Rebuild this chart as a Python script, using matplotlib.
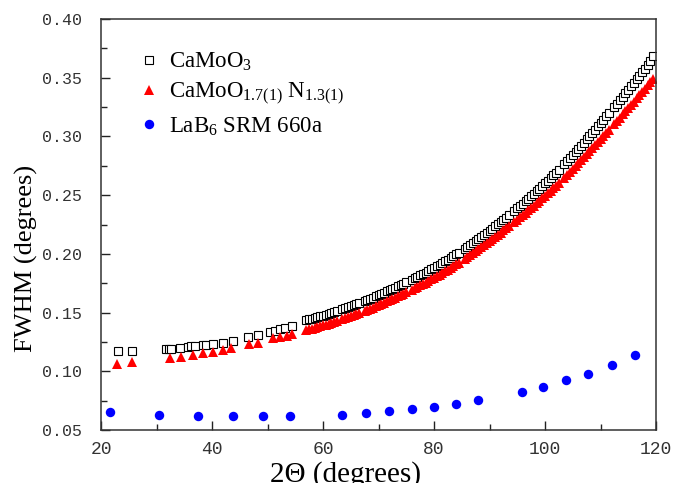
import matplotlib
matplotlib.use("Agg")
import matplotlib.pyplot as plt
from matplotlib.ticker import MultipleLocator, FormatStrFormatter

# ---------------- data ----------------
# CaMoO3 (open squares), low-angle peaks
sq_low_2theta = [23.0, 25.6, 31.7, 32.2, 32.6, 34.2, 35.7, 36.3, 36.9, 38.4, 39.0,
                 40.2, 42.0, 43.8, 46.5, 48.3, 50.5, 51.4, 52.3, 53.2, 54.5]
sq_low_fwhm = [0.1175, 0.1175, 0.1190, 0.1192, 0.1194, 0.1200, 0.1208, 0.1212, 0.1216,
               0.1222, 0.1226, 0.1233, 0.1245, 0.1262, 0.1290, 0.1308, 0.1335, 0.1345,
               0.1356, 0.1367, 0.1385]

# CaMoO1.7N1.3 (red triangles), low-angle peaks
tri_low_2theta = [22.8, 25.6, 32.4, 34.4, 36.5, 38.4, 40.2, 41.9, 43.5, 46.7, 48.2,
                  51.0, 52.3, 53.5, 54.5]
tri_low_fwhm = [0.1065, 0.1075, 0.1111, 0.1124, 0.1139, 0.1153, 0.1167, 0.1181, 0.1196,
                0.1230, 0.1238, 0.1281, 0.1290, 0.1301, 0.1318]

# dense high-angle region (shared peak positions)
dense_2theta = [57.0, 57.5, 58.0, 58.5, 59.0, 59.5, 60.0, 60.5, 61.0, 61.5, 62.0, 62.5,
                63.5, 64.0, 64.5, 65.0, 65.5, 66.0, 66.5,
                67.5, 68.0, 68.5, 69.0, 69.5, 70.0,
                70.5, 71.0, 71.5, 72.0, 72.5, 73.0, 73.5, 74.0, 74.5, 75.0,
                76.0, 76.5, 77.0, 77.5, 78.0, 78.5, 79.0, 79.5, 80.0, 80.5, 81.0, 81.5,
                82.0, 82.5, 83.0, 83.5, 84.0, 84.5,
                85.5, 86.0, 86.5, 87.0, 87.5, 88.0, 88.5, 89.0, 89.5, 90.0, 90.5, 91.0,
                91.5, 92.0, 92.5, 93.0, 93.5,
                94.5, 95.0, 95.5, 96.0, 96.5, 97.0, 97.5, 98.0, 98.5, 99.0, 99.5, 100.0,
                100.5, 101.0, 101.5, 102.0, 102.5,
                103.5, 104.0, 104.5, 105.0, 105.5, 106.0, 106.5, 107.0, 107.5, 108.0,
                108.5, 109.0, 109.5, 110.0, 110.5, 111.0, 111.5,
                112.5, 113.0, 113.5, 114.0, 114.5, 115.0, 115.5, 116.0, 116.5, 117.0,
                117.5, 118.0, 118.5, 119.0, 119.5]

sq_dense_fwhm = [0.1435, 0.1442, 0.1448, 0.1455, 0.1461, 0.1468, 0.1475, 0.1482, 0.1490,
                 0.1497, 0.1505, 0.1513,
                 0.1528, 0.1536, 0.1544, 0.1552, 0.1561, 0.1570, 0.1579,
                 0.1597, 0.1607, 0.1617, 0.1627, 0.1637, 0.1648,
                 0.1658, 0.1669, 0.1680, 0.1690, 0.1701, 0.1712, 0.1723, 0.1735, 0.1746,
                 0.1758,
                 0.1781, 0.1793, 0.1805, 0.1817, 0.1829, 0.1841, 0.1854, 0.1867, 0.1880,
                 0.1894, 0.1908, 0.1922, 0.1936, 0.1950, 0.1965, 0.1980, 0.1995, 0.2010,
                 0.2042, 0.2058, 0.2074, 0.2091, 0.2108, 0.2125, 0.2142, 0.2160, 0.2178,
                 0.2196, 0.2214, 0.2233, 0.2251, 0.2270, 0.2289, 0.2308, 0.2327,
                 0.2367, 0.2387, 0.2407, 0.2428, 0.2449, 0.2470, 0.2491, 0.2512, 0.2533,
                 0.2555, 0.2577, 0.2600, 0.2623, 0.2646, 0.2669, 0.2692, 0.2716,
                 0.2764, 0.2789, 0.2814, 0.2840, 0.2866, 0.2893, 0.2920, 0.2947, 0.2974,
                 0.3002, 0.3030, 0.3058, 0.3086, 0.3115, 0.3142, 0.3170, 0.3197,
                 0.3252, 0.3280, 0.3309, 0.3338, 0.3368, 0.3398, 0.3428, 0.3458, 0.3488,
                 0.3518, 0.3548, 0.3578, 0.3609, 0.3640, 0.3685]

tri_dense_fwhm = [0.1350, 0.1357, 0.1363, 0.1370, 0.1376, 0.1383, 0.1390, 0.1397, 0.1405,
                  0.1412, 0.1420, 0.1428,
                  0.1443, 0.1451, 0.1459, 0.1467, 0.1476, 0.1485, 0.1494,
                  0.1512, 0.1522, 0.1532, 0.1542, 0.1552, 0.1563,
                  0.1573, 0.1584, 0.1595, 0.1605, 0.1616, 0.1627, 0.1638, 0.1650, 0.1661,
                  0.1673,
                  0.1696, 0.1708, 0.1720, 0.1732, 0.1744, 0.1756, 0.1769, 0.1782, 0.1795,
                  0.1809, 0.1823, 0.1837, 0.1851, 0.1865, 0.1880, 0.1895, 0.1910, 0.1925,
                  0.1957, 0.1973, 0.1989, 0.2006, 0.2023, 0.2040, 0.2057, 0.2075, 0.2093,
                  0.2111, 0.2128, 0.2146, 0.2163, 0.2181, 0.2199, 0.2217, 0.2235,
                  0.2273, 0.2292, 0.2311, 0.2331, 0.2351, 0.2371, 0.2391, 0.2411, 0.2431,
                  0.2452, 0.2473, 0.2495, 0.2516, 0.2537, 0.2558, 0.2579, 0.2601,
                  0.2646, 0.2670, 0.2694, 0.2720, 0.2745, 0.2770, 0.2796, 0.2821, 0.2847,
                  0.2873, 0.2900, 0.2926, 0.2953, 0.2980, 0.3005, 0.3031, 0.3056,
                  0.3107, 0.3133, 0.3160, 0.3187, 0.3215, 0.3243, 0.3270, 0.3297, 0.3325,
                  0.3352, 0.3379, 0.3407, 0.3435, 0.3463, 0.3492]

# LaB6 SRM 660a (blue circles)
lab6_2theta = [21.6, 30.5, 37.5, 43.7, 49.1, 54.1, 63.4, 67.7, 71.9, 76.0, 80.0, 84.0,
               87.9, 95.8, 99.7, 103.7, 107.8, 112.0, 116.3]
lab6_fwhm = [0.0651, 0.0630, 0.0622, 0.0617, 0.0617, 0.0617, 0.0630, 0.0642, 0.0660,
             0.0679, 0.0698, 0.0724, 0.0756, 0.0824, 0.0869, 0.0923, 0.0980, 0.1054,
             0.1141]

labels = [r"CaMoO$_3$", r"CaMoO$_{1.7(1)}$ N$_{1.3(1)}$", r"LaB$_6$ SRM 660a"]
x_label = "2\u0398 (degrees)"
y_label = "FWHM (degrees)"

# ---------------- figure ----------------
plt.rcParams["mathtext.fontset"] = "custom"
plt.rcParams["mathtext.rm"] = "Liberation Serif"
plt.rcParams["mathtext.it"] = "Liberation Serif:italic"

fig = plt.figure(figsize=(6.77, 4.83), dpi=100)
ax = fig.add_axes([101 / 677, 1 - 430 / 483, 555 / 677, 411 / 483])

ax.plot(sq_low_2theta + dense_2theta, sq_low_fwhm + sq_dense_fwhm, ls="none",
        marker="s", ms=6.4, mfc="white", mec="black", mew=0.8, label=labels[0])
ax.plot(tri_low_2theta + dense_2theta, tri_low_fwhm + tri_dense_fwhm, ls="none",
        marker="^", ms=7.3, mfc="#ff0000", mec="#ff0000", mew=0.0, label=labels[1])
ax.plot(lab6_2theta, lab6_fwhm, ls="none", marker="o", ms=6.8, mfc="#0000ff",
        mec="#0000ff", mew=0.0, label=labels[2])

ax.set_xlim(20, 120)
ax.set_ylim(0.05, 0.40)
ax.xaxis.set_major_locator(MultipleLocator(20))
ax.xaxis.set_minor_locator(MultipleLocator(10))
ax.yaxis.set_major_locator(MultipleLocator(0.05))
ax.yaxis.set_minor_locator(MultipleLocator(0.025))
ax.yaxis.set_major_formatter(FormatStrFormatter("%.2f"))

ax.tick_params(which="both", direction="in", top=False, right=False, width=1.0,
               color="#222222")
ax.tick_params(which="major", length=6.5)
ax.tick_params(which="minor", length=4)
ax.tick_params(axis="x", which="major", pad=8, labelsize=13)
ax.tick_params(axis="y", which="major", pad=14, labelsize=12)
for lab in ax.get_xticklabels() + ax.get_yticklabels():
    lab.set_fontfamily("Liberation Mono")
    lab.set_color("#333333")

for s in ax.spines.values():
    s.set_linewidth(1.1)
    s.set_color("#333333")

ax.set_xlabel(x_label, family="Liberation Serif", fontsize=21)
ax.xaxis.set_label_coords(0.441, -0.0745)
ax.set_ylabel(y_label, family="Liberation Serif", fontsize=19)
ax.yaxis.set_label_coords(-0.1135, 0.418)

leg = ax.legend(loc="upper left", bbox_to_anchor=(0.0486, 0.9455), frameon=False,
                prop={"family": "Liberation Serif", "size": 16.5}, handlelength=1.0,
                handletextpad=0.37, labelspacing=0.36, borderaxespad=0.0,
                numpoints=1)

fig.savefig("out.png", dpi=100)
